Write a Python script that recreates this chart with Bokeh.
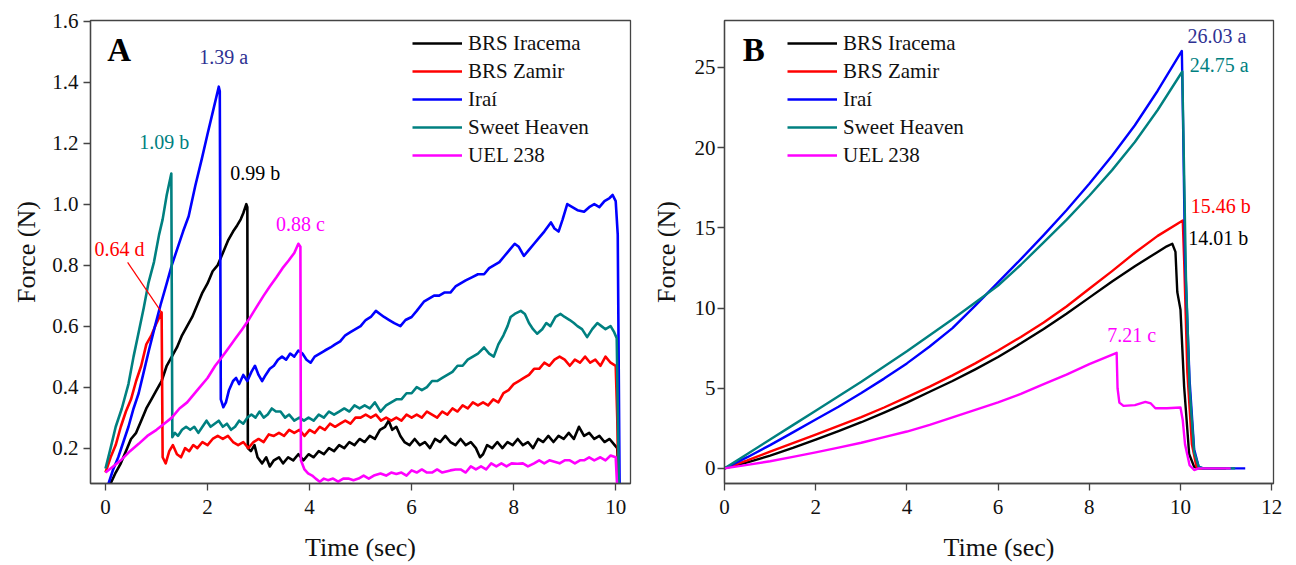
from bokeh.plotting import figure
from bokeh.models import Legend, LegendItem, Label, FixedTicker, PrintfTickFormatter, Range1d
from bokeh.layouts import row
from bokeh.embed import file_html
from bokeh.resources import INLINE

FONT = "Liberation Serif"

# ---------------- data ----------------
names = ["BRS Iracema", "BRS Zamir", "Iraí", "Sweet Heaven", "UEL 238"]
colors = ["#000000", "#ff0000", "#0000ff", "#008080", "#ff00ff"]
label_colors = ["#000000", "#ff0000", "#2e3192", "#008080", "#ff00ff"]

# Panel A: [time (s), force (N)] pairs
a_iracema = [[0.10,0.084],[0.20,0.12],[0.30,0.15],[0.40,0.19],[0.50,0.23],[0.60,0.25],[0.70,0.29],[0.80,0.33],
    [0.90,0.36],[1.00,0.39],[1.10,0.42],[1.20,0.47],[1.30,0.50],[1.40,0.53],[1.50,0.57],[1.60,0.60],[1.70,0.63],
    [1.80,0.67],[1.90,0.71],[2.00,0.74],[2.10,0.78],[2.20,0.80],[2.30,0.84],[2.40,0.88],[2.50,0.91],[2.58,0.93],
    [2.65,0.95],[2.70,0.97],[2.76,1.00],[2.78,0.99],[2.79,0.20],[2.85,0.19],[2.92,0.21],[2.98,0.17],[3.07,0.15],
    [3.15,0.17],[3.22,0.14],[3.30,0.16],[3.40,0.17],[3.48,0.15],[3.58,0.17],[3.68,0.16],[3.78,0.18],[3.88,0.16],
    [3.98,0.18],[4.08,0.17],[4.18,0.19],[4.28,0.18],[4.38,0.20],[4.48,0.19],[4.58,0.21],[4.68,0.20],[4.78,0.22],
    [4.88,0.21],[4.98,0.23],[5.08,0.22],[5.18,0.24],[5.28,0.23],[5.38,0.26],[5.48,0.27],[5.55,0.29],[5.62,0.26],
    [5.70,0.27],[5.78,0.24],[5.86,0.22],[5.96,0.21],[6.06,0.23],[6.16,0.21],[6.26,0.22],[6.36,0.20],[6.46,0.23],
    [6.56,0.22],[6.66,0.24],[6.76,0.22],[6.86,0.21],[6.96,0.23],[7.06,0.21],[7.16,0.22],[7.26,0.20],[7.34,0.17],
    [7.40,0.18],[7.48,0.21],[7.58,0.20],[7.68,0.22],[7.78,0.20],[7.88,0.22],[7.98,0.21],[8.08,0.23],[8.18,0.21],
    [8.28,0.22],[8.38,0.20],[8.48,0.23],[8.58,0.22],[8.68,0.24],[8.78,0.22],[8.88,0.24],[8.98,0.23],[9.08,0.25],
    [9.18,0.23],[9.28,0.27],[9.38,0.24],[9.48,0.25],[9.58,0.23],[9.68,0.24],[9.78,0.22],[9.88,0.23],[9.98,0.21],
    [10.03,0.20],[10.06,0.10],[10.08,0.0]]

a_zamir = [[0.00,0.12],[0.10,0.17],[0.20,0.21],[0.30,0.27],[0.40,0.32],[0.50,0.36],[0.60,0.42],[0.70,0.47],
    [0.80,0.54],[0.90,0.57],[1.00,0.61],[1.10,0.645],[1.12,0.17],[1.18,0.15],[1.25,0.19],[1.32,0.21],[1.40,0.18],
    [1.48,0.17],[1.56,0.20],[1.64,0.19],[1.72,0.21],[1.80,0.20],[1.90,0.22],[2.00,0.21],[2.10,0.23],[2.20,0.24],
    [2.30,0.23],[2.40,0.24],[2.50,0.22],[2.60,0.21],[2.70,0.22],[2.80,0.20],[2.90,0.22],[3.00,0.23],[3.10,0.22],
    [3.20,0.245],[3.30,0.24],[3.40,0.25],[3.50,0.24],[3.60,0.26],[3.70,0.25],[3.80,0.26],[3.90,0.24],[4.00,0.26],
    [4.10,0.25],[4.20,0.27],[4.30,0.26],[4.40,0.28],[4.50,0.27],[4.60,0.28],[4.70,0.29],[4.80,0.28],[4.90,0.30],
    [5.00,0.30],[5.10,0.31],[5.20,0.30],[5.30,0.31],[5.40,0.29],[5.50,0.30],[5.60,0.29],[5.70,0.30],[5.80,0.29],
    [5.90,0.31],[6.00,0.30],[6.10,0.31],[6.20,0.30],[6.30,0.32],[6.40,0.31],[6.50,0.30],[6.60,0.32],[6.70,0.31],
    [6.80,0.33],[6.90,0.32],[7.00,0.34],[7.10,0.33],[7.20,0.35],[7.30,0.34],[7.40,0.35],[7.50,0.34],[7.60,0.36],
    [7.70,0.35],[7.80,0.38],[7.90,0.39],[8.00,0.41],[8.10,0.42],[8.20,0.43],[8.30,0.44],[8.40,0.46],[8.50,0.46],
    [8.60,0.48],[8.70,0.47],[8.80,0.49],[8.90,0.50],[9.00,0.49],[9.10,0.47],[9.20,0.49],[9.30,0.48],[9.40,0.50],
    [9.50,0.48],[9.60,0.49],[9.70,0.47],[9.80,0.50],[9.90,0.48],[10.00,0.47],[10.03,0.30],[10.06,0.0]]

a_irai = [[0.06,0.084],[0.15,0.13],[0.25,0.17],[0.35,0.22],[0.45,0.27],[0.55,0.33],[0.65,0.38],[0.75,0.45],
    [0.85,0.52],[0.97,0.60],[1.08,0.67],[1.20,0.74],[1.30,0.80],[1.40,0.85],[1.52,0.91],[1.63,0.96],[1.76,1.06],
    [1.89,1.15],[2.00,1.23],[2.10,1.30],[2.22,1.385],[2.24,1.37],[2.26,0.36],[2.31,0.334],[2.36,0.35],[2.42,0.39],
    [2.50,0.42],[2.56,0.43],[2.62,0.41],[2.70,0.44],[2.78,0.42],[2.86,0.45],[2.93,0.47],[3.00,0.44],[3.07,0.42],
    [3.14,0.44],[3.22,0.46],[3.30,0.47],[3.38,0.49],[3.46,0.50],[3.54,0.49],[3.62,0.51],[3.70,0.50],[3.78,0.52],
    [3.86,0.51],[3.94,0.49],[4.02,0.48],[4.10,0.50],[4.20,0.51],[4.30,0.52],[4.41,0.53],[4.50,0.54],[4.60,0.55],
    [4.70,0.57],[4.80,0.58],[4.90,0.59],[5.00,0.60],[5.10,0.62],[5.20,0.63],[5.30,0.65],[5.38,0.64],[5.46,0.63],
    [5.56,0.62],[5.66,0.61],[5.78,0.60],[5.88,0.62],[6.00,0.63],[6.10,0.65],[6.24,0.68],[6.34,0.69],[6.44,0.70],
    [6.54,0.70],[6.64,0.71],[6.76,0.71],[6.86,0.73],[6.96,0.74],[7.06,0.75],[7.18,0.76],[7.30,0.77],[7.42,0.77],
    [7.52,0.79],[7.62,0.80],[7.72,0.81],[7.82,0.83],[7.92,0.85],[8.02,0.87],[8.10,0.86],[8.20,0.83],[8.30,0.85],
    [8.40,0.87],[8.50,0.89],[8.60,0.91],[8.73,0.94],[8.80,0.92],[8.88,0.91],[8.96,0.95],[9.05,1.00],[9.15,0.99],
    [9.25,0.98],[9.38,0.975],[9.48,0.99],[9.58,1.00],[9.68,0.99],[9.78,1.01],[9.88,1.02],[9.94,1.03],[10.00,1.01],
    [10.04,0.90],[10.08,0.0]]

a_sweet = [[0.00,0.133],[0.10,0.20],[0.20,0.27],[0.32,0.33],[0.45,0.41],[0.55,0.50],[0.65,0.58],[0.75,0.66],
    [0.84,0.74],[0.95,0.81],[1.05,0.90],[1.12,0.95],[1.20,1.03],[1.29,1.10],[1.31,0.236],[1.36,0.25],[1.42,0.24],
    [1.50,0.26],[1.58,0.27],[1.66,0.26],[1.74,0.27],[1.82,0.25],[1.90,0.27],[1.98,0.29],[2.06,0.27],[2.14,0.28],
    [2.22,0.29],[2.30,0.27],[2.38,0.28],[2.46,0.26],[2.54,0.27],[2.62,0.29],[2.70,0.28],[2.78,0.30],[2.86,0.31],
    [2.94,0.30],[3.02,0.32],[3.10,0.30],[3.18,0.31],[3.26,0.33],[3.34,0.32],[3.43,0.32],[3.52,0.30],[3.60,0.31],
    [3.70,0.29],[3.80,0.30],[3.89,0.29],[3.98,0.30],[4.08,0.29],[4.18,0.31],[4.28,0.30],[4.38,0.32],[4.48,0.31],
    [4.58,0.32],[4.68,0.33],[4.78,0.32],[4.88,0.34],[4.98,0.33],[5.08,0.34],[5.18,0.33],[5.28,0.35],[5.39,0.32],
    [5.50,0.34],[5.60,0.35],[5.70,0.36],[5.80,0.36],[5.90,0.38],[6.00,0.38],[6.10,0.40],[6.20,0.39],[6.30,0.40],
    [6.40,0.42],[6.50,0.42],[6.60,0.43],[6.70,0.44],[6.80,0.45],[6.90,0.47],[7.00,0.47],[7.10,0.49],[7.20,0.50],
    [7.30,0.51],[7.42,0.53],[7.52,0.51],[7.61,0.50],[7.70,0.54],[7.80,0.57],[7.88,0.60],[7.94,0.63],[8.02,0.64],
    [8.14,0.65],[8.22,0.64],[8.30,0.61],[8.38,0.59],[8.46,0.575],[8.56,0.59],[8.64,0.61],[8.72,0.60],[8.82,0.63],
    [8.92,0.64],[9.00,0.63],[9.10,0.62],[9.18,0.61],[9.25,0.60],[9.34,0.59],[9.44,0.564],[9.54,0.59],[9.64,0.61],
    [9.72,0.60],[9.80,0.59],[9.90,0.60],[9.97,0.58],[10.02,0.56],[10.07,0.0]]

a_uel = [[0.00,0.12],[0.15,0.14],[0.30,0.16],[0.48,0.19],[0.65,0.214],[0.82,0.24],[1.00,0.26],[1.15,0.28],
    [1.30,0.30],[1.45,0.33],[1.60,0.35],[1.80,0.39],[2.00,0.43],[2.15,0.47],[2.28,0.498],[2.42,0.53],[2.55,0.56],
    [2.68,0.59],[2.80,0.619],[2.95,0.66],[3.10,0.70],[3.22,0.73],[3.35,0.76],[3.47,0.79],[3.59,0.815],[3.70,0.84],
    [3.78,0.87],[3.82,0.86],[3.83,0.16],[3.90,0.13],[3.97,0.117],[4.05,0.11],[4.12,0.10],[4.20,0.09],[4.28,0.10],
    [4.36,0.095],[4.46,0.10],[4.56,0.09],[4.66,0.10],[4.76,0.10],[4.86,0.095],[4.96,0.10],[5.06,0.11],[5.16,0.10],
    [5.26,0.11],[5.39,0.117],[5.50,0.11],[5.60,0.12],[5.70,0.115],[5.80,0.12],[5.90,0.11],[6.00,0.127],[6.10,0.12],
    [6.20,0.13],[6.30,0.12],[6.40,0.12],[6.50,0.13],[6.60,0.12],[6.76,0.127],[6.86,0.13],[6.96,0.13],[7.06,0.12],
    [7.16,0.14],[7.26,0.13],[7.36,0.14],[7.46,0.13],[7.56,0.15],[7.66,0.14],[7.76,0.15],[7.86,0.14],[7.96,0.15],
    [8.07,0.149],[8.18,0.15],[8.28,0.14],[8.40,0.15],[8.50,0.16],[8.60,0.15],[8.70,0.16],[8.80,0.155],[8.90,0.15],
    [9.00,0.16],[9.10,0.16],[9.20,0.15],[9.30,0.16],[9.38,0.16],[9.48,0.17],[9.58,0.16],[9.70,0.17],[9.80,0.16],
    [9.90,0.176],[10.00,0.17],[10.05,0.0]]

a_peak_text = ["0.99 b", "0.64 d", "1.39 a", "1.09 b", "0.88 c"]
a_peak_t = [2.76, 1.10, 2.22, 1.29, 3.78]
a_peak_v = [1.00, 0.645, 1.389, 1.10, 0.87]

# Panel B: [time (s), force (N)] pairs
b_iracema = [[0.0,0.0],[0.5,0.38],[1.0,0.8],[1.5,1.28],[2.0,1.8],[2.5,2.33],[3.0,2.88],[3.5,3.48],[4.0,4.1],
    [4.5,4.78],[5.0,5.45],[5.5,6.18],[6.0,6.95],[6.5,7.8],[7.0,8.7],[7.5,9.65],[8.0,10.65],[8.5,11.65],[9.0,12.6],
    [9.5,13.5],[9.7,13.85],[9.82,14.01],[9.89,13.5],[9.93,11.0],[10.0,9.9],[10.08,5.1],[10.19,0.9],[10.30,0.1],
    [10.40,0.0],[11.0,0.0]]

b_zamir = [[0.0,0.0],[0.5,0.5],[1.0,1.05],[1.5,1.58],[2.0,2.1],[2.5,2.65],[3.0,3.2],[3.5,3.8],[4.0,4.45],
    [4.5,5.1],[5.0,5.8],[5.5,6.55],[6.0,7.35],[6.5,8.2],[7.0,9.1],[7.5,10.1],[8.0,11.2],[8.5,12.3],[9.0,13.45],
    [9.5,14.5],[10.05,15.46],[10.08,13.0],[10.15,6.0],[10.25,1.5],[10.35,0.1],[10.45,0.0],[11.0,0.0]]

b_irai = [[0.0,0.0],[0.5,0.7],[1.0,1.45],[1.5,2.25],[2.0,3.05],[2.5,3.85],[3.0,4.7],[3.5,5.6],[4.0,6.55],
    [4.5,7.6],[5.0,8.75],[5.5,10.15],[6.0,11.6],[6.5,13.05],[7.0,14.55],[7.5,16.1],[8.0,17.75],[8.5,19.5],
    [9.0,21.4],[9.5,23.55],[10.03,26.03],[10.06,21.0],[10.10,13.0],[10.20,5.5],[10.30,1.2],[10.40,0.1],
    [10.50,0.0],[11.42,0.0]]

b_sweet = [[0.0,0.0],[0.5,0.9],[1.0,1.8],[1.5,2.7],[2.0,3.6],[2.5,4.5],[3.0,5.4],[3.5,6.35],[4.0,7.3],
    [4.5,8.3],[5.0,9.3],[5.5,10.35],[6.0,11.4],[6.5,12.7],[7.0,14.1],[7.5,15.5],[8.0,17.0],[8.5,18.6],
    [9.0,20.35],[9.5,22.35],[10.04,24.75],[10.07,20.0],[10.12,12.0],[10.20,5.0],[10.30,1.0],[10.40,0.1],
    [10.50,0.0],[11.20,0.0]]

b_uel = [[0.0,0.0],[0.5,0.22],[1.0,0.45],[1.5,0.72],[2.0,1.0],[2.5,1.3],[3.0,1.6],[3.5,1.95],[4.0,2.3],
    [4.5,2.72],[5.0,3.18],[5.5,3.65],[6.0,4.12],[6.5,4.65],[7.0,5.25],[7.5,5.85],[8.0,6.5],[8.6,7.21],[8.62,5.0],
    [8.66,4.1],[8.75,3.9],[9.0,3.95],[9.23,4.15],[9.35,4.05],[9.45,3.75],[9.7,3.75],[10.0,3.8],[10.05,3.0],
    [10.1,1.5],[10.2,0.2],[10.3,-0.1],[10.4,0.0],[11.1,0.0]]

b_peak_text = ["14.01 b", "15.46 b", "26.03 a", "24.75 a", "7.21 c"]
b_peak_t = [9.82, 10.05, 10.03, 10.04, 8.6]
b_peak_v = [14.01, 15.46, 26.03, 24.75, 7.21]


def unzip(s):
    return [q[0] for q in s], [q[1] for q in s]


a_series = [unzip(s) for s in (a_iracema, a_zamir, a_irai, a_sweet, a_uel)]
b_series = [unzip(s) for s in (b_iracema, b_zamir, b_irai, b_sweet, b_uel)]

# ---------------- styling / layout ----------------
H = 565
A_W, B_W = 640, 656
TOP, BOTTOM = 20, 82
AX_COL = "#444444"

# screen offsets of peak labels (x right, y up), in px
a_offsets = [(9, 31), (-42, 63), (5, 28), (-7, 32), (2, 20)]
b_offsets = [(46, 6), (38, 14), (35, 15), (37, 6), (15, 18)]


def style(p, xticks, yticks, yfmt, ylab_standoff, ytick_standoff):
    p.outline_line_color = AX_COL
    p.outline_line_width = 1.3
    p.xgrid.visible = False
    p.ygrid.visible = False
    p.background_fill_color = "white"
    p.border_fill_color = "white"
    for ax in (p.xaxis[0], p.yaxis[0]):
        ax.axis_line_color = AX_COL
        ax.axis_line_width = 1.3
        ax.major_tick_line_color = AX_COL
        ax.major_tick_line_width = 1.3
        ax.major_tick_in = 0
        ax.major_tick_out = 7
        ax.minor_tick_line_color = None
        ax.major_label_text_font = FONT
        ax.major_label_text_font_size = "21px"
        ax.major_label_text_color = "#111111"
        ax.axis_label_text_font = FONT
        ax.axis_label_text_font_size = "26px"
        ax.axis_label_text_font_style = "normal"
        ax.axis_label_text_color = "#111111"
    p.xaxis[0].ticker = FixedTicker(ticks=xticks)
    p.yaxis[0].ticker = FixedTicker(ticks=yticks)
    p.yaxis[0].formatter = PrintfTickFormatter(format=yfmt)
    p.xaxis[0].axis_label = "Time (sec)"
    p.yaxis[0].axis_label = "Force (N)"
    p.xaxis[0].major_label_standoff = 9
    p.xaxis[0].axis_label_standoff = 16
    p.yaxis[0].axis_label_standoff = ylab_standoff
    p.yaxis[0].major_label_standoff = ytick_standoff


def make_panel(width, xr, yr, series, lw, border_left, border_right, legend_x, letter, letter_xy,
               peak_text, peak_t, peak_v, offsets, xticks, yticks, yfmt, ylab_standoff, ytick_standoff):
    p = figure(width=width, height=H, output_backend="svg", toolbar_location=None,
               x_range=Range1d(*xr), y_range=Range1d(*yr),
               min_border_left=border_left, min_border_right=border_right,
               min_border_top=TOP, min_border_bottom=BOTTOM)
    style(p, xticks, yticks, yfmt, ylab_standoff, ytick_standoff)
    items = []
    for (t, v), name, col in zip(series, names, colors):
        r = p.line(t, v, line_color=col, line_width=lw, line_join="round")
        items.append(LegendItem(label=name, renderers=[r]))
    frame_h = H - TOP - BOTTOM
    legend = Legend(items=items, location=(legend_x, frame_h - 9 - 5 * 28),
                    padding=0, margin=0, spacing=0, label_height=28, glyph_height=28,
                    glyph_width=50, label_standoff=6, border_line_color=None,
                    background_fill_alpha=0, label_text_font=FONT, label_text_font_size="21px",
                    label_text_color="#111111")
    p.add_layout(legend)
    for txt, t, v, (dx, dy), col in zip(peak_text, peak_t, peak_v, offsets, label_colors):
        p.add_layout(Label(x=t, y=v, x_offset=dx, y_offset=dy, text=txt, text_color=col,
                           text_font=FONT, text_font_size="20px", text_align="center",
                           text_baseline="middle"))
    p.add_layout(Label(x=letter_xy[0], y=letter_xy[1], text=letter, text_font=FONT,
                       text_font_size="33px", text_font_style="bold", text_color="#000000",
                       text_align="center", text_baseline="middle"))
    return p


pa = make_panel(A_W, (-0.294, 10.29), (0.084, 1.602), a_series, 2.6, 90, 10, 322, "A", (0.27, 1.504),
                a_peak_text, a_peak_t, a_peak_v, a_offsets,
                [0, 2, 4, 6, 8, 10], [0.2, 0.4, 0.6, 0.8, 1.0, 1.2, 1.4, 1.6], "%.1f", 8, 5)

# leader line for the red "0.64 d" label (pixel offset converted to data units)
a_px_t = (A_W - 90 - 10) / (10.29 + 0.294)
a_px_v = (H - TOP - BOTTOM) / (1.602 - 0.084)
pa.segment(x0=a_peak_t[1], y0=a_peak_v[1], x1=a_peak_t[1] - 34 / a_px_t, y1=a_peak_v[1] + 50 / a_px_v,
           line_color="#ff0000", line_width=1.2)

pb = make_panel(B_W, (0, 12.04), (-0.94, 27.93), b_series, 2.4, 84, 23, 63, "B", (0.64, 26.1),
                b_peak_text, b_peak_t, b_peak_v, b_offsets,
                [0, 2, 4, 6, 8, 10, 12], [0, 5, 10, 15, 20, 25], "%d", 11, 2)

layout = row(pa, pb)
open("out.html", "w").write(file_html(layout, INLINE))
